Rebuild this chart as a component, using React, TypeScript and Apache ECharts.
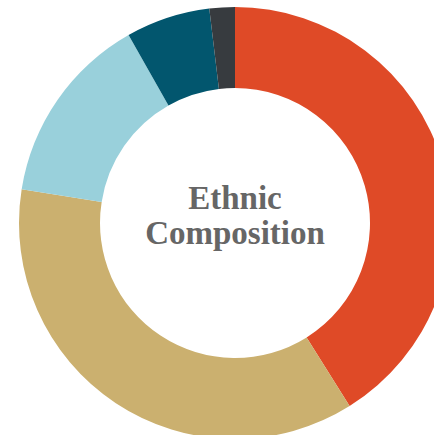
import React, { useEffect, useRef } from "react";
import * as echarts from "echarts";

const categories = ["Group A", "Group B", "Group C", "Group D", "Group E"];
const values = [41.1, 36.4, 14.3, 6.3, 1.9];
const colors = ["#DF4A27", "#CBB06F", "#99D0DB", "#02566E", "#373B3F"];
const centerTitle = "Ethnic\nComposition";

export default function App() {
  const ref = useRef<HTMLDivElement>(null);
  useEffect(() => {
    document.body.style.margin = "0";
    if (!ref.current) return;
    const chart = echarts.init(ref.current, null, { renderer: "svg" });
    chart.setOption({
      animation: false,
      backgroundColor: "#ffffff",
      graphic: [
        {
          type: "text",
          x: 235,
          y: 215,
          style: {
            text: centerTitle,
            fill: "#666666",
            font: "bold 33px 'Liberation Serif', serif",
            align: "center",
            verticalAlign: "middle",
            lineHeight: 35,
          },
        },
      ],
      series: [
        {
          type: "pie",
          center: [235, 223],
          radius: [135, 216],
          startAngle: 90,
          clockwise: true,
          label: { show: false },
          labelLine: { show: false },
          emphasis: { disabled: true },
          itemStyle: { borderWidth: 0 },
          data: categories.map((name, i) => ({
            name,
            value: values[i],
            itemStyle: { color: colors[i] },
          })),
        },
      ],
    });
    return () => chart.dispose();
  }, []);
  return <div ref={ref} style={{ width: 434, height: 435 }} />;
}
